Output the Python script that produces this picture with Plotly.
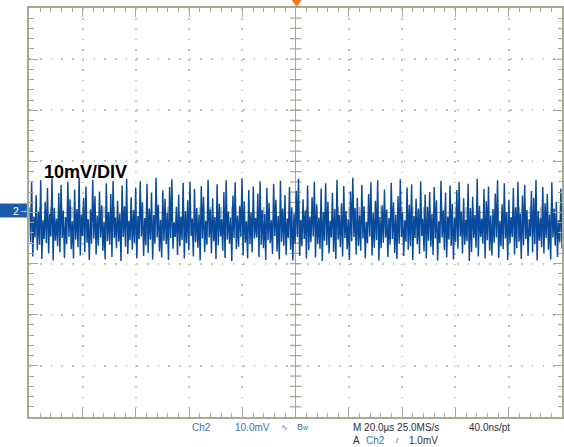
import numpy as np
import plotly.graph_objects as go

# ---- data (mV; 10 mV/div, 20 us/div) ----
highs = [
    1.0, 5.9, -0.8, 3.4, 0.2, 6.3, -1.5, 2.1, 4.8, -0.3, 6.7, 0.9, -1.2, 3.8, 5.4, 0.4, -0.9, 6.0, 2.6, -1.7,
    4.5, 0.7, 6.9, -0.4, 2.9, 5.1, -1.3, 0.6, 6.4, 3.2, -0.6, 4.1, 1.4, -1.8, 5.7, 0.1, 3.6, 6.2, -1.0, 2.3,
    -0.2, 5.3, 1.2, 6.6, -1.6, 3.0, 0.5, 4.9, -0.7, 6.1, 2.0, -1.1, 5.6, 0.8, 3.9, -0.5, 6.8, 1.5, -1.4, 4.3,
    2.7, -0.1, 5.0, 6.5, -1.9, 1.1, 3.5, -0.8, 5.8, 0.3, 2.4, 6.0, -1.2, 4.6, 0.9, -0.4, 5.2, 3.1, -1.6, 6.4,
    0.6, 2.8, -0.9, 5.5, 1.7, -1.3, 4.0, 6.3, 0.2, -1.0, 3.3, 5.9, -0.6, 1.3, 6.7, 2.2, -1.7, 4.4, 0.0, 5.1,
    -1.1, 3.7, 6.1, 0.5, -0.3, 4.8, 1.9, -1.5, 5.6, 2.5, -0.7, 6.2, 0.8, 3.4, -1.2, 5.0, 1.0, -0.2, 4.2, 6.6,
    -1.4, 2.6, 0.4, 5.3, -0.8, 3.0, 6.0, 1.6, -1.0, 4.7, 0.1, 5.7, 2.1, -1.6, 3.8, 0.7, 6.4, -0.5, 1.8, 5.2,
    0.3, -1.3, 4.1, 6.8, 0.9, 2.9, -0.6, 5.4, 1.2, -1.8, 3.6, 5.9, -0.1, 2.3, 6.3, -0.9, 1.4, 4.5, 0.6, -1.1,
    5.8, 2.0, -0.4, 3.2, 6.5, 0.0, -1.5, 4.9, 1.5, 5.5, -0.7, 2.7, 0.8, 6.1, -1.2, 3.5, 1.1, 4.0, -0.3, 5.0,
    2.4, -1.7, 6.2, 0.4, 3.9, -0.8, 5.3, 1.7, -1.0, 4.4, 6.0, 0.2, 2.8, -1.4, 5.6, 0.9, 3.1, -0.5, 6.6, 1.3,
    -1.2, 4.6, 2.2, 5.1, -0.6, 0.7, 3.7, 6.3, -1.6, 1.6, 5.7, 0.1, 2.5, -0.9, 4.8, 1.0, 6.0, -0.2, 3.3, 5.4,
    0.5, -1.3, 4.2, 2.9, 6.4, 0.3, -1.1, 5.0, 1.8, 3.6, -0.4, 5.9, 0.8, 2.1, -1.5, 4.7,
]
lows = [
    -5.8, -8.6, -4.9, -7.4, -6.3, -9.1, -5.2, -6.0, -8.0, -4.7, -9.4, -5.5, -6.6, -7.8, -5.0, -8.9, -6.2, -4.8, -7.2, -9.0,
    -5.3, -6.8, -8.4, -4.6, -7.7, -5.9, -9.3, -6.1, -5.1, -8.2, -6.5, -4.9, -7.5, -9.2, -5.6, -6.3, -8.7, -5.0, -7.0, -5.7,
    -9.5, -4.8, -6.7, -8.1, -5.4, -7.3, -6.0, -9.0, -5.2, -4.7, -8.5, -6.4, -7.9, -5.3, -9.2, -6.1, -4.9, -7.6, -8.8, -5.5,
    -6.2, -9.3, -5.0, -7.1, -4.8, -8.3, -6.6, -5.4, -9.0, -6.0, -7.4, -4.6, -8.6, -5.8, -6.9, -9.4, -5.1, -7.7, -6.3, -4.9,
    -8.0, -5.6, -9.1, -6.4, -4.7, -7.5, -8.9, -5.3, -6.1, -9.5, -5.0, -7.2, -6.7, -4.8, -8.4, -5.9, -9.0, -6.2, -7.8, -5.1,
    -4.9, -8.7, -6.3, -7.0, -9.3, -5.4, -6.0, -8.1, -4.6, -7.6, -9.2, -5.7, -6.5, -8.3, -5.0, -7.3, -9.4, -6.1, -4.8, -8.5,
    -6.6, -5.2, -9.0, -7.4, -5.8, -4.7, -8.8, -6.2, -7.1, -9.5, -5.5, -6.4, -8.0, -4.9, -7.7, -9.1, -5.3, -6.8, -8.6, -5.0,
    -7.2, -9.3, -5.6, -4.8, -8.2, -6.5, -7.5, -5.1, -9.0, -6.0, -4.7, -8.4, -6.9, -5.4, -9.4, -7.0, -5.9, -4.9, -8.7, -6.3,
    -5.2, -7.9, -9.1, -6.1, -4.8, -8.5, -5.7, -7.3, -6.6, -9.3, -5.0, -6.2, -8.1, -4.6, -7.6, -9.0, -5.5, -6.7, -8.3, -5.1,
    -9.4, -6.0, -4.9, -7.4, -8.8, -5.3, -6.5, -9.2, -5.8, -7.1, -4.7, -8.0, -6.3, -5.6, -9.5, -7.7, -5.0, -6.9, -8.6, -4.8,
    -6.1, -9.0, -5.4, -7.5, -8.4, -5.9, -4.9, -8.9, -6.6, -7.2, -5.1, -9.3, -6.0, -4.8, -8.2, -7.0, -5.7, -9.1, -6.4, -5.2,
    -8.5, -4.7, -7.8, -6.2, -9.4, -5.5, -6.8, -8.0, -5.0, -7.3, -9.2, -4.9, -6.5, -8.7, -5.8, -7.1,
]
x_range = [-100, 100]   # us  (10 div x 20 us)
y_range = [-40, 40]     # mV  (8 div x 10 mV)
volts_label = "10mV/DIV"

# ---- build waveform ----
y = []
for h, l in zip(highs, lows):
    y += [h, l]
t = np.linspace(x_range[0], x_range[1], len(y))

W, H = 564, 447
left_px, top_px, bottom_px = 29.5, 8, 417
GRID = "#c4c4b6"
AX = "#a8a896"

fig = go.Figure()

# centre crosshair ticks
xm = np.arange(x_range[0] + 4, x_range[1], 4)
ym = np.arange(y_range[0] + 2, y_range[1], 2)
fig.add_trace(go.Scatter(x=xm, y=np.zeros_like(xm), mode="markers", hoverinfo="skip",
                         marker=dict(symbol="line-ns", size=8, line=dict(color=AX, width=1.3))))
fig.add_trace(go.Scatter(x=np.zeros_like(ym), y=ym, mode="markers", hoverinfo="skip",
                         marker=dict(symbol="line-ew", size=8, line=dict(color=AX, width=1.3))))

fig.add_trace(go.Scatter(x=t, y=y, mode="lines", line=dict(color="#084a9c", width=1.45),
                         hoverinfo="skip"))

px_x = (W - left_px) / 10 / 5
px_y = (bottom_px - top_px) / 8 / 5

fig.update_xaxes(range=x_range, domain=[left_px / W, 1], showticklabels=False,
                 dtick=20, tick0=0, showgrid=True, gridcolor=GRID, gridwidth=1.6,
                 griddash="1.6px,%.3fpx" % (px_y - 1.6),
                 zeroline=True, zerolinecolor=AX, zerolinewidth=1.3,
                 showline=True, mirror="allticks", linecolor=AX, linewidth=1.6,
                 ticks="inside", ticklen=9, tickcolor=AX, tickwidth=1.3,
                 minor=dict(dtick=4, tick0=0, ticks="inside", ticklen=4.5, tickcolor=AX, tickwidth=1.3, showgrid=False),
                 fixedrange=True)
fig.update_yaxes(range=y_range, domain=[(H - bottom_px) / H, (H - top_px) / H], showticklabels=False,
                 dtick=10, tick0=0, showgrid=True, gridcolor=GRID, gridwidth=1.6,
                 griddash="1.6px,%.3fpx" % (px_x - 1.6),
                 zeroline=True, zerolinecolor=AX, zerolinewidth=1.3,
                 showline=True, mirror="allticks", linecolor=AX, linewidth=1.6,
                 ticks="inside", ticklen=9, tickcolor=AX, tickwidth=1.3,
                 minor=dict(dtick=2, tick0=0, ticks="inside", ticklen=4.5, tickcolor=AX, tickwidth=1.3, showgrid=False),
                 fixedrange=True)

# channel marker box
fig.add_shape(type="rect", xref="paper", yref="paper",
              x0=0, x1=27 / W, y0=1 - 217.5 / H, y1=1 - 203.5 / H,
              fillcolor="#1c5dab", line=dict(width=0))
# trigger position marker (orange), above the top of the graticule
centre_px = left_px + (W - left_px) / 2
fig.add_shape(type="path", xref="paper", yref="paper", xsizemode="pixel", ysizemode="pixel",
              xanchor=(centre_px + 1) / W, yanchor=1, path="M -5,0 L 5,0 L 0,-7 Z",
              fillcolor="#f07828", line=dict(width=0))

def px(xp, yp):
    return xp / W, 1 - yp / H

FONT = "Arial, Liberation Sans, sans-serif"
def add_text(text, xp, yp, size, color, bold=False, anchor="left"):
    xx, yy = px(xp, yp)
    fig.add_annotation(text=("<b>%s</b>" % text) if bold else text, x=xx, y=yy,
                       xref="paper", yref="paper", xanchor=anchor, yanchor="middle",
                       showarrow=False, font=dict(family=FONT, size=size, color=color))

add_text("2", 11.5, 210.5, 10.5, "white")
add_text("→", 17.5, 210, 9, "white")
add_text(volts_label, 42, 172, 18, "black", bold=True)

BLUE = "#3f72ad"
DARK = "#303030"
add_text("Ch2", 190.5, 427.5, 10, BLUE)
add_text("10.0mV", 234, 427.5, 10, BLUE)
add_text("∿", 279.5, 427.5, 8, BLUE)
add_text("B<span style='font-size:7px'>w</span>", 296.5, 427, 9, BLUE)
add_text("M 20.0µs 25.0MS/s", 352, 427.5, 10, DARK)
add_text("40.0ns/pt", 469, 427.5, 10, DARK)
add_text("A", 352.5, 440, 10, DARK)
add_text("Ch2", 365, 440, 10, BLUE)
add_text("/", 395.5, 440, 8, DARK)
add_text("1.0mV", 408, 440, 10, DARK)

fig.update_layout(width=W, height=H, margin=dict(l=0, r=0, t=0, b=0),
                  paper_bgcolor="white", plot_bgcolor="white", showlegend=False)

fig.write_html("out.html", config={"displayModeBar": False},
               post_script="document.body.style.margin='0px';document.body.style.overflow='hidden';")
